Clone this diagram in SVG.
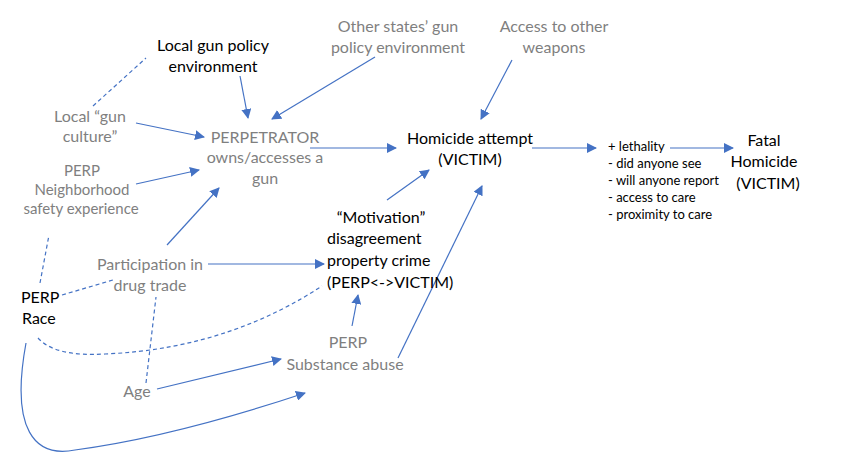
<svg xmlns="http://www.w3.org/2000/svg" width="846" height="463" viewBox="0 0 846 463">
<defs>
<marker id="ah" viewBox="0 0 10 10" refX="9" refY="5" markerWidth="10" markerHeight="10" markerUnits="userSpaceOnUse" orient="auto">
<path d="M0,0 L10,5 L0,10 Z" fill="#4472c4"/>
</marker>
</defs>
<style>
text{font-family:Lato,"Open Sans","Liberation Sans",sans-serif;font-size:16px}
.b{fill:#000}
.g{fill:#7f7f7f}
.s{font-size:13px;fill:#000}
.m{font-size:15px}
.c{text-anchor:middle}
.l{stroke:#4472c4;stroke-width:1.2;fill:none}
.a{marker-end:url(#ah)}
.d{stroke-dasharray:4,3}
</style>
<rect width="846" height="463" fill="#fff"/>
<g id="connectors">
<line class="l a" x1="240" y1="76" x2="248" y2="118"/>
<line class="l a" x1="375" y1="57" x2="272" y2="119"/>
<line class="l a" x1="512" y1="60" x2="481" y2="119"/>
<line class="l a" x1="136" y1="123" x2="204" y2="137"/>
<line class="l a" x1="136" y1="184" x2="199" y2="170"/>
<line class="l a" x1="167" y1="245" x2="219" y2="188"/>
<line class="l a" x1="310" y1="148" x2="396" y2="148"/>
<line class="l a" x1="387" y1="200" x2="429" y2="170"/>
<line class="l a" x1="398" y1="358" x2="482" y2="186"/>
<line class="l a" x1="532" y1="148" x2="596" y2="148"/>
<line class="l a" x1="670" y1="148" x2="733" y2="148"/>
<line class="l a" x1="208" y1="264" x2="324" y2="264"/>
<line class="l a" x1="352" y1="326" x2="358" y2="295"/>
<line class="l a" x1="157" y1="389" x2="281" y2="359"/>
<path class="l a" d="M26 343 C10 430 35 458 75 450 C150 440 230 418 305 393"/>
<line class="l d" x1="93" y1="106" x2="146" y2="58"/>
<line class="l d" x1="40" y1="283" x2="49" y2="235"/>
<line class="l d" x1="62" y1="295" x2="113" y2="280"/>
<line class="l d" x1="146" y1="383" x2="156" y2="297"/>
<path class="l d" d="M38 338 Q55 357 105 354 C200 350 270 320 322 286"/>
</g>
<g id="local-gun-policy"><text class="b c" x="213" y="51">Local gun policy</text><text class="b c" x="213" y="72">environment</text></g>
<g id="other-states"><text class="g c" x="398" y="32">Other states’ gun</text><text class="g c" x="398" y="53">policy environment</text></g>
<g id="access-weapons"><text class="g c" x="554" y="32">Access to other</text><text class="g c" x="554" y="53">weapons</text></g>
<g id="gun-culture"><text class="g c" x="90" y="122">Local “gun</text><text class="g c" x="90" y="142">culture”</text></g>
<g id="neighborhood"><text class="g c m" x="82" y="176">PERP</text><text class="g c m" x="82" y="195">Neighborhood</text><text class="g c m" x="81" y="214">safety experience</text></g>
<g id="perpetrator"><text class="g c" x="265" y="143">PERPETRATOR</text><text class="g c" x="265" y="163">owns/accesses a</text><text class="g c" x="265" y="184">gun</text></g>
<g id="homicide-attempt"><text class="b c" x="470" y="144">Homicide attempt</text><text class="b c" x="470" y="165">(VICTIM)</text></g>
<g id="factors"><text class="s" x="608" y="151">+ lethality</text><text class="s" x="608" y="168">- did anyone see</text><text class="s" x="608" y="185">- will anyone report</text><text class="s" x="608" y="202">- access to care</text><text class="s" x="608" y="219">- proximity to care</text></g>
<g id="fatal-homicide"><text class="b c" x="764" y="146">Fatal</text><text class="b c" x="764" y="167">Homicide</text><text class="b c" x="768" y="189">(VICTIM)</text></g>
<g id="motivation"><text class="b c" x="381" y="223">“Motivation”</text><text class="b" x="327" y="244">disagreement</text><text class="b" x="327" y="266">property crime</text><text class="b" x="327" y="288">(PERP&lt;-&gt;VICTIM)</text></g>
<g id="drug-trade"><text class="g c" x="150" y="270">Participation in</text><text class="g c" x="150" y="291">drug trade</text></g>
<g id="perp-race"><text class="b" x="21" y="303">PERP</text><text class="b" x="22" y="324">Race</text></g>
<g id="substance"><text class="g c" x="348" y="348">PERP</text><text class="g c" x="345" y="370">Substance abuse</text></g>
<g id="age"><text class="g c" x="137" y="397">Age</text></g>
</svg>
